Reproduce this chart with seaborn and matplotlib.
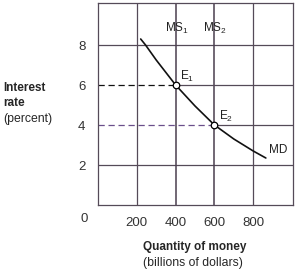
import matplotlib
matplotlib.use("Agg")
import matplotlib.pyplot as plt
import seaborn as sns
import pandas as pd

# ---- data ----
md_quantity = [220, 245, 300, 400, 500, 600, 700, 800, 865]
md_rate = [8.3, 8.0, 7.25, 6.0, 4.95, 4.0, 3.3, 2.7, 2.35]
ms_quantity = [400, 600]
ms_labels = ["MS$_1$", "MS$_2$"]
eq_quantity = [400, 600]
eq_rate = [6, 4]
eq_labels = ["E$_1$", "E$_2$"]
x_ticks = [200, 400, 600, 800]
y_ticks = [2, 4, 6, 8]
plain_grid_x = [200, 800]
plain_grid_y = [2, 8]

sns.set_style("white")
plt.rcParams["font.family"] = ["Liberation Sans", "DejaVu Sans"]
plt.rcParams["mathtext.default"] = "regular"

fig = plt.figure(figsize=(2.95, 2.71), dpi=100)
ax = fig.add_axes([98 / 295, 66 / 271, 195 / 295, 202 / 271])

grid_c = "#554a58"
for x in plain_grid_x:
    ax.axvline(x, color=grid_c, lw=0.9, zorder=1)
for y in plain_grid_y:
    ax.axhline(y, color=grid_c, lw=0.9, zorder=1)
for x in ms_quantity:
    ax.axvline(x, color="#4a3f4e", lw=1.1, zorder=1)

# horizontal lines through equilibria: dashed to the left, solid to the right
dash_colors = ["#111111", "#6a4f8a"]
for q, r, dc in zip(eq_quantity, eq_rate, dash_colors):
    ax.plot([0, q], [r, r], color=dc, lw=0.9, ls=(0, (5, 3)), zorder=1)
    ax.plot([q, 1005], [r, r], color=grid_c, lw=0.9, zorder=1)

df = pd.DataFrame({"q": md_quantity, "r": md_rate})
sns.lineplot(data=df, x="q", y="r", ax=ax, color="#111111", lw=1.2, sort=False, zorder=3)

ep = pd.DataFrame({"q": eq_quantity, "r": eq_rate})
sns.scatterplot(data=ep, x="q", y="r", ax=ax, s=22, color="white", edgecolor="black",
                linewidth=0.9, zorder=4)

ax.set_xlim(0, 1005)
ax.set_ylim(0, 10.1)
ax.set_xticks(x_ticks)
ax.set_yticks(y_ticks)
ax.set_xticklabels([str(v) for v in x_ticks])
ax.set_yticklabels([str(v) for v in y_ticks])
ax.tick_params(axis="both", length=0, labelsize=9.5, colors="#333333", pad=9)
ax.set_xlabel("")
ax.set_ylabel("")
for s in ax.spines.values():
    s.set_color(grid_c)
    s.set_linewidth(0.9)

# origin label
ax.text(-70, -0.7, "0", fontsize=9.5, color="#333333", ha="center", va="center",
        clip_on=False)

for q, lab in zip(ms_quantity, ms_labels):
    ax.text(q + 5, 8.85, lab, fontsize=8.5, ha="center", va="center", color="#222222")
for q, r, lab in zip(eq_quantity, eq_rate, eq_labels):
    ax.text(q + 25, r + 0.42, lab, fontsize=8.5, ha="left", va="center", color="#222222")
ax.text(880, 2.75, "MD", fontsize=8.5, ha="left", va="center", color="#222222")

# axis titles
fig.text(3 / 295, 1 - 88 / 271, "Interest", fontsize=8.5, fontweight="bold", ha="left", va="center")
fig.text(3 / 295, 1 - 103 / 271, "rate", fontsize=8.5, fontweight="bold", ha="left", va="center")
fig.text(3 / 295, 1 - 119 / 271, "(percent)", fontsize=8.8, ha="left", va="center")
fig.text(143 / 295, 1 - 247 / 271, "Quantity of money", fontsize=8.5, fontweight="bold",
         ha="left", va="center")
fig.text(143 / 295, 1 - 263 / 271, "(billions of dollars)", fontsize=8.8, ha="left", va="center")

fig.savefig("out.png", dpi=100)
